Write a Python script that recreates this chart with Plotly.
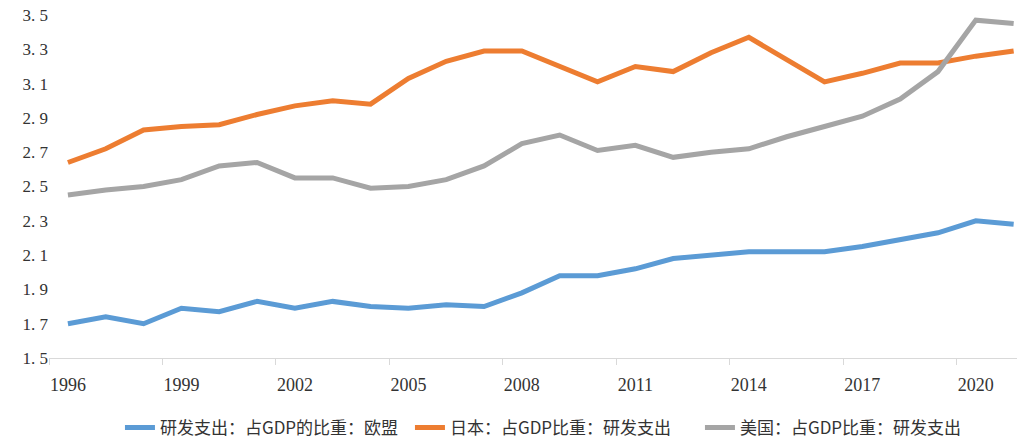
import plotly.graph_objects as go

years = list(range(1996, 2022))
eu = [1.70, 1.74, 1.70, 1.79, 1.77, 1.83, 1.79, 1.83, 1.80, 1.79, 1.81, 1.80, 1.88,
      1.98, 1.98, 2.02, 2.08, 2.10, 2.12, 2.12, 2.12, 2.15, 2.19, 2.23, 2.30, 2.28]
japan = [2.64, 2.72, 2.83, 2.85, 2.86, 2.92, 2.97, 3.00, 2.98, 3.13, 3.23, 3.29, 3.29,
         3.20, 3.11, 3.20, 3.17, 3.28, 3.37, 3.24, 3.11, 3.16, 3.22, 3.22, 3.26, 3.29]
usa = [2.45, 2.48, 2.50, 2.54, 2.62, 2.64, 2.55, 2.55, 2.49, 2.50, 2.54, 2.62, 2.75,
       2.80, 2.71, 2.74, 2.67, 2.70, 2.72, 2.79, 2.85, 2.91, 3.01, 3.17, 3.47, 3.45]
names = ["研发支出：占GDP的比重：欧盟", "日本：占GDP比重：研发支出", "美国：占GDP比重：研发支出"]
colors = ["#5B9BD5", "#ED7D31", "#A5A5A5"]

x_tickvals = [1996, 1999, 2002, 2005, 2008, 2011, 2014, 2017, 2020]
x_ticktext = [str(v) for v in x_tickvals]
y_tickvals = [1.5, 1.7, 1.9, 2.1, 2.3, 2.5, 2.7, 2.9, 3.1, 3.3, 3.5]
y_ticktext = ["1. 5", "1. 7", "1. 9", "2. 1", "2. 3", "2. 5", "2. 7", "2. 9", "3. 1", "3. 3", "3. 5"]

SERIF = "Liberation Serif, Times New Roman, serif"

fig = go.Figure()
for name, vals, col in zip(names, [eu, japan, usa], colors):
    fig.add_trace(go.Scatter(x=years, y=vals, mode="lines", name=name,
                             line=dict(color=col, width=5)))

# page body has an 8px margin, so the figure is offset by 8px
fig.update_layout(
    width=1017, height=439,
    margin=dict(l=41, r=0, t=7, b=89),
    paper_bgcolor="white", plot_bgcolor="white",
    font=dict(family=SERIF, size=15, color="#333333"),
    legend=dict(orientation="h", x=0.0727, xanchor="left", y=-0.204, yanchor="middle",
                font=dict(family="Noto Sans CJK SC", size=17, color="#333333"),
                entrywidth=245, entrywidthmode="pixels", tracegroupgap=0),
    showlegend=True,
)
fig.update_xaxes(range=[1995.5, 2021.3], tickvals=x_tickvals, ticktext=x_ticktext,
                 automargin=False, ticklabeloverflow="allow",
                 showgrid=False, zeroline=False, showline=True, linecolor="#d9d9d9", linewidth=1,
                 ticks="", ticklabelstandoff=10,
                 tickfont=dict(family=SERIF, size=18, color="#333333"),
                 minor=dict(tick0=1995.5, dtick=3, ticks="outside", ticklen=6,
                            tickcolor="#d9d9d9", showgrid=False))
fig.update_yaxes(range=[1.5, 3.5], tickvals=y_tickvals, ticktext=y_ticktext,
                 automargin=False, ticklabeloverflow="allow",
                 showgrid=False, zeroline=False, showline=False, ticks="",
                 tickfont=dict(family=SERIF, size=17, color="#333333"))

fig.write_html("out.html")
